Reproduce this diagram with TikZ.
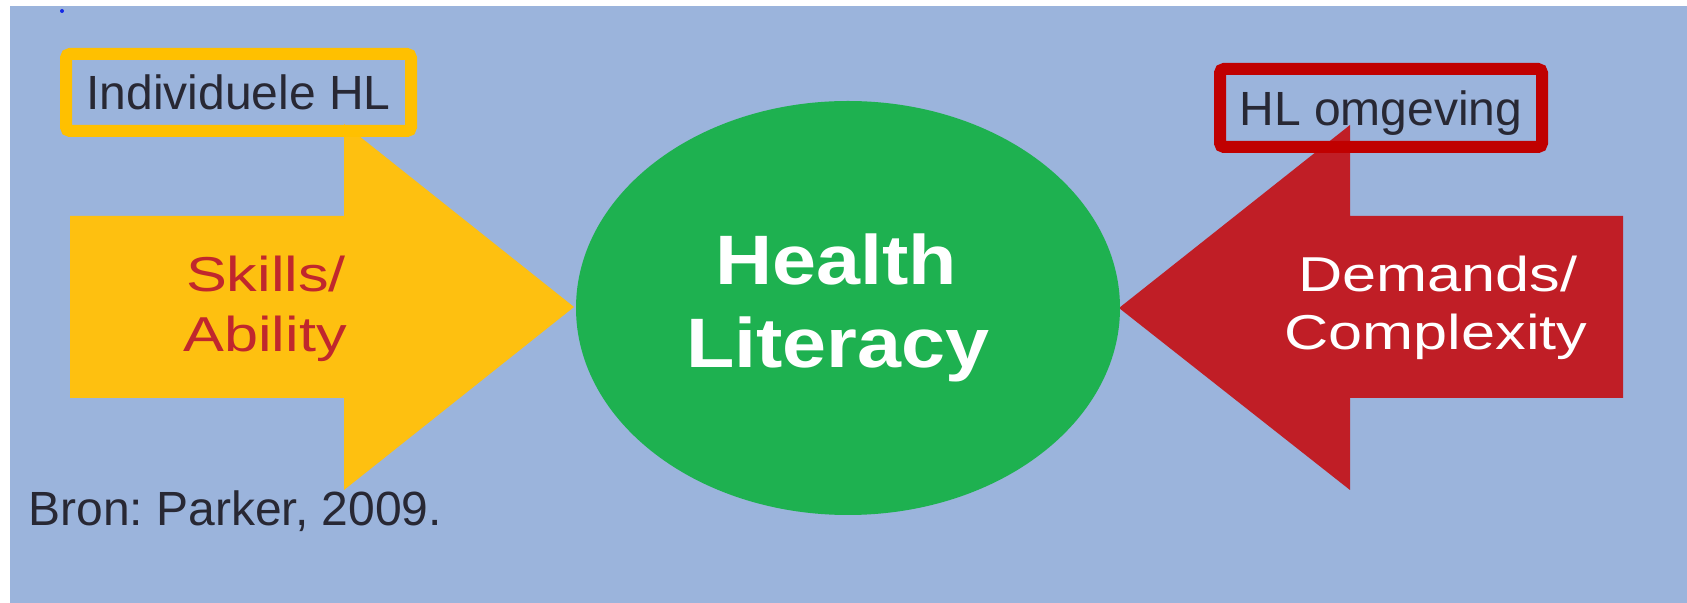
\documentclass[tikz,border=0pt]{standalone}
\usepackage{fontspec}
\setmainfont{Liberation Sans}
\usetikzlibrary{shapes.geometric}
\definecolor{bgblue}{RGB}{155,180,220}
\definecolor{dotblue}{RGB}{20,40,230}
\definecolor{arrowyellow}{RGB}{254,192,16}
\definecolor{boxyellow}{RGB}{255,192,0}
\definecolor{arrowred}{RGB}{192,30,38}
\definecolor{boxred}{RGB}{192,0,0}
\definecolor{hlgreen}{RGB}{30,177,80}
\definecolor{darktext}{RGB}{40,40,52}
\definecolor{skilltext}{RGB}{192,39,45}
\newcommand{\lblfont}{\fontsize{24pt}{29pt}\selectfont}
\newcommand{\hlfont}{\fontsize{35pt}{41pt}\selectfont\bfseries}
\newcommand{\wide}[1]{\scalebox{1.25}[1]{#1}}
\newcommand{\hwide}[1]{\scalebox{1.13}[1]{#1}}
\frenchspacing
\tikzset{
  labelbox/.style={line width=6pt, rounded corners=2pt, inner sep=0pt,
    text depth=0pt, font=\lblfont, text=darktext},
  arrowtext/.style={anchor=base, inner sep=0pt, font=\fontsize{24.5pt}{29pt}\selectfont},
  hltext/.style={anchor=base, inner sep=0pt, font=\hlfont, text=white}
}
\begin{document}
\begin{tikzpicture}[x=0.5pt,y=-0.5pt]
\useasboundingbox (0,0) rectangle (1687,603);
\fill[white] (0,0) rectangle (1687,603);
\fill[bgblue] (10,6) rectangle (1687,603);
\fill[dotblue] (62,11) circle (2);

% left (yellow) arrow
\fill[arrowyellow] (70,216) -- (344,216) -- (344,124) -- (574,307)
  -- (344,490) -- (344,398) -- (70,398) -- cycle;
% right (red) arrow
\fill[arrowred] (1623,216) -- (1350,216) -- (1350,125) -- (1119,308)
  -- (1350,490) -- (1350,398) -- (1623,398) -- cycle;

% central ellipse
\node[ellipse, fill=hlgreen, minimum width=272pt, minimum height=207pt,
  inner sep=0pt] (hl) at (848,308) {};
\node[hltext] (hl1) at (836,285) {\hwide{Health}};
\node[hltext] (hl2) at (838,368) {\hwide{Literacy}};

% arrow labels
\node[arrowtext, text=skilltext] (sk1) at (266,292) {\wide{Skills/}};
\node[arrowtext, text=skilltext] (sk2) at (265,352) {\wide{Ability}};
\node[arrowtext, text=white] (dm1) at (1438,292) {\wide{Demands/}};
\node[arrowtext, text=white] (dm2) at (1436,350) {\wide{Complexity}};

% framed labels
\node[labelbox, draw=boxyellow, minimum width=172.5pt, minimum height=38.5pt]
  (ind) at (238.5,92.5) {Individuele HL};
\node[labelbox, draw=boxred, minimum width=161pt, minimum height=39pt]
  (omg) at (1381,108) {HL omgeving};

% source
\node[anchor=base west, inner sep=0pt, font=\lblfont, text=darktext]
  (bron) at (28,526) {Bron: Parker, 2009.};
\end{tikzpicture}
\end{document}
